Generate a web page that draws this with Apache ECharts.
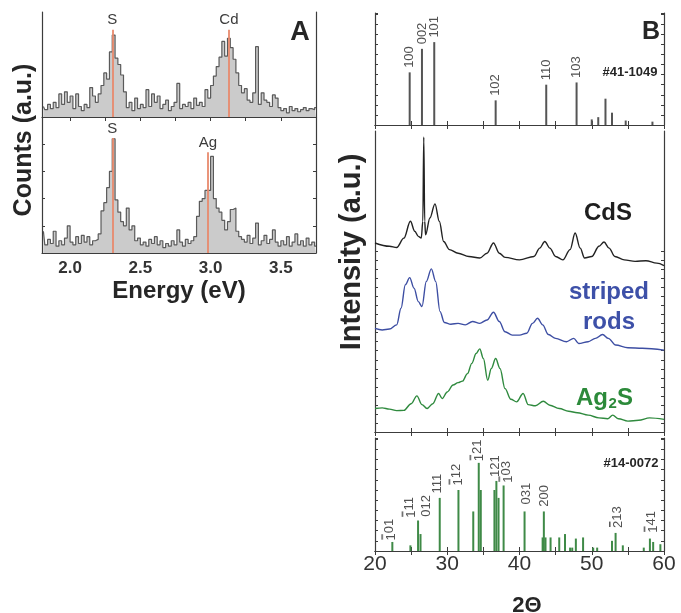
<!DOCTYPE html>
<html>
<head>
<meta charset="utf-8">
<script src="https://cdn.jsdelivr.net/npm/echarts@6/dist/echarts.min.js"></script>
<style>
  html, body { margin: 0; padding: 0; background: #fff; }
  #chart { width: 681px; height: 613px; }
</style>
</head>
<body>
<div id="chart"></div>
<script>
// ---- panel A: EDS spectra (bin centres in eV, counts in a.u.)
const energy = [
  1.81, 1.83, 1.85, 1.87, 1.89, 1.91, 1.93, 1.95, 1.97, 1.99,
  2.01, 2.03, 2.05, 2.07, 2.09, 2.11, 2.13, 2.15, 2.17, 2.19,
  2.21, 2.23, 2.25, 2.27, 2.29, 2.31, 2.33, 2.35, 2.37, 2.39,
  2.41, 2.43, 2.45, 2.47, 2.49, 2.51, 2.53, 2.55, 2.57, 2.59,
  2.61, 2.63, 2.65, 2.67, 2.69, 2.71, 2.73, 2.75, 2.77, 2.79,
  2.81, 2.83, 2.85, 2.87, 2.89, 2.91, 2.93, 2.95, 2.97, 2.99,
  3.01, 3.03, 3.05, 3.07, 3.09, 3.11, 3.13, 3.15, 3.17, 3.19,
  3.21, 3.23, 3.25, 3.27, 3.29, 3.31, 3.33, 3.35, 3.37, 3.39,
  3.41, 3.43, 3.45, 3.47, 3.49, 3.51, 3.53, 3.55, 3.57, 3.59,
  3.61, 3.63, 3.65, 3.67, 3.69, 3.71, 3.73, 3.75
];
const edsCdS = [
  10, 7, 12, 8, 14, 9, 22, 12, 24, 14,
  20, 8, 22, 10, 6, 12, 9, 28, 20, 14,
  22, 30, 42, 36, 62, 78, 56, 50, 40, 24,
  9, 14, 6, 18, 8, 12, 9, 26, 10, 22,
  14, 20, 8, 12, 16, 6, 10, 14, 32, 8,
  12, 10, 14, 8, 18, 11, 14, 10, 26, 18,
  30, 39, 48, 57, 72, 58, 75, 66, 55, 42,
  30, 23, 27, 16, 14, 23, 67, 12, 23, 16,
  14, 10, 21, 18, 9, 6, 8, 4, 10, 6,
  8, 5, 7, 9, 6, 8, 7, 9
];
const edsAg2S = [
  16, 6, 10, 7, 16, 5, 9, 6, 11, 20,
  8, 6, 12, 7, 13, 8, 12, 6, 9, 10,
  14, 31, 37, 48, 60, 84, 39, 30, 23, 20,
  33, 17, 20, 9, 11, 6, 8, 5, 10, 7,
  12, 6, 9, 4, 7, 5, 9, 6, 17, 8,
  5, 10, 7, 9, 12, 27, 38, 40, 46, 46,
  71, 40, 33, 30, 24, 17, 23, 32, 33, 16,
  12, 10, 8, 13, 7, 11, 22, 6, 9, 13,
  7, 10, 17, 8, 5, 9, 6, 12, 5, 8,
  14, 6, 9, 5, 11, 6, 8, 5
];
const lineS = 2.30, lineCd = 3.13, lineAg = 2.98;
const eTicks = [2.0, 2.25, 2.5, 2.75, 3.0, 3.25, 3.5];
const eLabels = [2.0, 2.5, 3.0, 3.5];

// ---- panel B: XRD patterns (2-theta, intensity)
const cdsTheta = [20, 22, 23, 24, 24.9, 25.5, 26.0, 26.4, 26.62, 26.75, 26.88, 27.0, 27.6, 28.3, 28.9,
  29.5, 30.3, 31.5, 33, 34.5, 35.5, 36.4, 37.2, 38, 40, 42, 42.8, 43.5, 44.2, 45,
  46, 47, 47.7, 48.4, 49, 50, 51, 51.7, 52.4, 53.2, 54.5, 56, 57.5, 59, 60];
const cdsInt = [62.8, 61.7, 61.3, 64.4, 70, 66.7, 65, 64.4, 70, 98, 70, 65.5, 71.1, 75.8, 70,
  63.3, 60.6, 59.4, 58.3, 57.8, 59.4, 62.8, 59.4, 58, 57.2, 58.3, 61.1, 63.3, 61.1, 58.3,
  57.2, 60.6, 66.1, 61.1, 57.8, 58.3, 61.7, 63.1, 61.1, 58.3, 57.2, 56.7, 56.9, 56.1, 55.3];

const rodsTheta = [20, 21, 22, 23, 23.6, 24.2, 24.8, 25.4, 26.0, 26.5, 27.1, 27.8, 28.4, 29.0, 29.6,
  30.5, 31.5, 32.5, 33.5, 34.5, 35.5, 36.4, 37.2, 38, 39, 40, 41, 41.8, 42.5, 43.2,
  44, 45, 46.5, 47.5, 48.2, 49.5, 50.5, 51.5, 52.3, 53.3, 55, 57, 60];
const rodsInt = [34.4, 33.9, 34.2, 35.6, 41.1, 48.9, 51.3, 47.8, 43.3, 41.7, 50, 54.2, 50, 40, 36.4,
  35.8, 36.1, 35.6, 36.7, 36.1, 37.2, 39.8, 36.7, 33.3, 32.2, 32.2, 32.8, 36.1, 37.8, 35.6,
  32.4, 31.1, 30, 31.1, 29.4, 30, 31.1, 32.4, 31.1, 28.9, 28, 27.8, 27.2];

const ag2sTheta = [20, 21, 22, 23, 24, 25, 25.8, 26.5, 27.2, 28, 28.8, 29.3, 30, 30.8, 31.5,
  32.1, 32.8, 33.4, 34.0, 34.5, 35.0, 35.6, 36.1, 36.7, 37.3, 38.0, 38.8, 39.6, 40.5, 41.2,
  42.2, 43.3, 44.2, 45.5, 46.8, 48, 49.5, 51, 52.2, 52.9, 53.7, 55, 56.5, 58, 60];
const ag2sInt = [7.8, 8, 7.6, 7.1, 7.2, 9.4, 12, 9.1, 7.8, 9.4, 12.8, 11.1, 13.3, 15.6, 16.4,
  16.9, 19.4, 22.8, 26.1, 27.6, 24.4, 17.2, 21.1, 24.4, 21.1, 14.4, 10.9, 10, 12.8, 9.1,
  8.7, 10.2, 8.9, 7.8, 6.9, 6.4, 5.6, 4.7, 4.4, 5.6, 4.4, 3.6, 3.9, 4.7, 4.2];

// reference card #41-1049 (CdS)
const cdsRefPos = [24.8, 26.5, 28.2, 36.7, 43.7, 47.9, 50.0, 50.9, 51.9, 52.8, 54.7, 58.4];
const cdsRefHt = [47, 68, 74, 22, 36, 38, 5, 7, 23.5, 11, 4, 3];
const cdsRefHkl = ['100', '002', '101', '102', '110', '103'];

// reference card #14-0072 (Ag2S)
const agRefPos = [22.4, 24.9, 25.96, 26.3, 28.96, 31.55, 33.6, 34.36, 34.64, 36.53, 36.8, 37.1, 37.8,
  40.7, 43.2, 43.37, 43.6, 44.3, 45.5, 46.3, 47.0, 47.3, 47.8, 48.8, 50.2, 50.75,
  52.8, 53.3, 54.3, 57.2, 58.05, 58.5, 59.5];
const agRefHt = [8, 5, 27, 15, 47, 54, 35, 78, 54, 54, 62, 47, 58,
  35, 12, 35, 12, 12, 12, 15, 3, 3, 11, 12, 3, 3,
  9, 16, 5, 3, 11, 8, 6];
const agHklPos = [22.0, 24.8, 27.16, 28.7, 31.3, 34.2, 36.6, 38.2, 41.0, 43.5, 53.5, 58.3];
const agHklY = [8.8, 29, 29.8, 50.4, 57.5, 79, 65, 60, 40.7, 38.7, 20, 15.7];
// "b" marks an index carrying an overbar (negative Miller index)
const agHkl = ['b101', 'b111', '012', '111', 'b112', 'b121', '121', 'b103', '031', '200', 'b213', 'b141'];

const FONT = '"Liberation Sans", Arial, Helvetica, sans-serif';
const INK = '#262626';
const FRAME = '#3c3c3c';

const chart = echarts.init(document.getElementById('chart'));

function xAx(gridIndex, position, min, max, extra) {
  return Object.assign({
    type: 'value', gridIndex: gridIndex, position: position, min: min, max: max,
    axisLine: { show: true, lineStyle: { color: FRAME, width: 1.2 } },
    axisTick: { show: true, inside: true, length: 4, lineStyle: { color: FRAME } },
    axisLabel: { show: false },
    splitLine: { show: false }
  }, extra || {});
}
function yAx(gridIndex, position, tick) {
  return {
    type: 'value', gridIndex: gridIndex, position: position, min: 0, max: 100,
    axisLine: { show: true, lineStyle: { color: FRAME, width: 1.2 } },
    axisTick: tick ? Object.assign({ show: true, inside: true, length: 3, lineStyle: { color: FRAME } }, tick)
                   : { show: false },
    axisLabel: { show: false },
    splitLine: { show: false }
  };
}
function sticks(color) {
  return function (params, api) {
    const base = api.coord([api.value(0), 0]);
    const tip = api.coord([api.value(0), api.value(1)]);
    return {
      type: 'rect',
      shape: { x: base[0] - 1, y: tip[1], width: 2, height: base[1] - tip[1] },
      style: { fill: color }
    };
  };
}
function redLine(x, top, name) {
  return [{ coord: [x, 0] }, { coord: [x, top], label: { formatter: name } }];
}
function txt(x, y, text, size, bold, color, align, rot) {
  return {
    type: 'text', x: x, y: y, rotation: rot || 0,
    style: {
      text: text, fill: color || INK, fontSize: size, fontWeight: bold ? 'bold' : 'normal',
      fontFamily: FONT, align: align || 'center', verticalAlign: 'middle'
    }
  };
}
// hkl label: the first digit gets an overline through rich text
function hklText(h) {
  return h[0] === 'b' ? '{o|' + h[1] + '}' + h.slice(2) : h;
}
function overbar() {
  const c = document.createElement('canvas');
  c.width = 8; c.height = 18;
  const g = c.getContext('2d');
  g.fillStyle = INK;
  g.fillRect(1, 0, 6, 1.6);
  return c;
}

const eTickCfg = { customValues: eTicks, show: true, inside: true, length: 4, lineStyle: { color: FRAME } };
const edsLine = { color: '#5a5a5a', width: 1.2 };
const edsArea = { color: '#cbcbcb', opacity: 1 };
const markRed = {
  symbol: 'none', silent: true,
  lineStyle: { color: '#e8896d', width: 2, type: 'solid', opacity: 0.9 },
  label: { show: true, position: 'end', distance: 2, color: INK, fontSize: 15, fontFamily: FONT }
};
const xrdLine = { type: 'line', xAxisIndex: 4, yAxisIndex: 6, smooth: 0.35, smoothMonotone: 'x', symbol: 'none' };

chart.setOption({
  animation: false,
  grid: [
    { left: 42, top: 12, width: 274, height: 105 },
    { left: 42, top: 117, width: 274, height: 136 },
    { left: 375, top: 13, width: 289, height: 112 },
    { left: 375, top: 131, width: 289, height: 301 },
    { left: 375, top: 438, width: 289, height: 113 }
  ],
  xAxis: [
    xAx(0, 'top', 1.8, 3.75, { axisTick: eTickCfg }),
    xAx(1, 'bottom', 1.8, 3.75, {
      axisTick: eTickCfg,
      axisLabel: {
        show: true, customValues: eLabels, margin: 7, color: '#333', fontSize: 17,
        fontWeight: 'bold', fontFamily: FONT, formatter: v => v.toFixed(1)
      }
    }),
    xAx(2, 'bottom', 20, 60, { interval: 5 }),
    xAx(2, 'top', 20, 60, { interval: 5 }),
    xAx(3, 'bottom', 20, 60, { interval: 5 }),
    xAx(3, 'top', 20, 60, { interval: 5 }),
    xAx(4, 'bottom', 20, 60, {
      interval: 5,
      axisLabel: { show: true, customValues: [20, 30, 40, 50, 60], margin: 3, color: '#333', fontSize: 21, fontFamily: FONT }
    }),
    xAx(4, 'top', 20, 60, { interval: 5 })
  ],
  yAxis: [
    yAx(0, 'left', null),
    yAx(0, 'right', null),
    yAx(1, 'left', { interval: 10 }),
    yAx(1, 'right', { interval: 10 }),
    Object.assign(yAx(2, 'left', {}), { interval: 9 }),
    Object.assign(yAx(2, 'right', {}), { interval: 9 }),
    yAx(3, 'left', { customValues: Array.from({ length: 21 }, (_, i) => i * 3) }),
    yAx(3, 'right', { customValues: Array.from({ length: 21 }, (_, i) => i * 3) }),
    Object.assign(yAx(4, 'left', {}), { interval: 9 }),
    Object.assign(yAx(4, 'right', {}), { interval: 9 })
  ],
  series: [
    {
      name: 'EDS CdS', type: 'line', xAxisIndex: 0, yAxisIndex: 0, step: 'middle',
      symbol: 'none', lineStyle: edsLine, areaStyle: edsArea,
      data: energy.map((e, i) => [e, edsCdS[i]]),
      markLine: Object.assign({ data: [redLine(lineS, 83, 'S'), redLine(lineCd, 83, 'Cd')] }, markRed)
    },
    {
      name: 'EDS Ag2S', type: 'line', xAxisIndex: 1, yAxisIndex: 2, step: 'middle',
      symbol: 'none', lineStyle: edsLine, areaStyle: edsArea,
      data: energy.map((e, i) => [e, edsAg2S[i]]),
      markLine: Object.assign({ data: [redLine(lineS, 84.5, 'S'), redLine(lineAg, 74, 'Ag')] }, markRed)
    },
    {
      name: 'ref CdS', type: 'custom', xAxisIndex: 2, yAxisIndex: 4,
      renderItem: sticks('#555555'), encode: { x: 0, y: 1 },
      data: cdsRefPos.map((x, i) => [x, cdsRefHt[i]])
    },
    {
      name: 'ref CdS hkl', type: 'scatter', xAxisIndex: 2, yAxisIndex: 4, symbolSize: 1,
      itemStyle: { color: 'transparent' }, silent: true,
      label: {
        show: true, position: 'top', distance: 4, rotate: 90, align: 'left', verticalAlign: 'middle',
        color: INK, fontSize: 13, fontFamily: FONT, formatter: p => p.data[2]
      },
      data: cdsRefHkl.map((h, i) => [cdsRefPos[i], cdsRefHt[i], h])
    },
    Object.assign({
      name: 'CdS', lineStyle: { color: '#222222', width: 1.4 },
      data: cdsTheta.map((t, i) => [t, cdsInt[i]])
    }, xrdLine),
    Object.assign({
      name: 'striped rods', lineStyle: { color: '#3d4ea3', width: 1.4 },
      data: rodsTheta.map((t, i) => [t, rodsInt[i]])
    }, xrdLine),
    Object.assign({
      name: 'Ag2S', lineStyle: { color: '#2f8a3e', width: 1.4 },
      data: ag2sTheta.map((t, i) => [t, ag2sInt[i]])
    }, xrdLine),
    {
      name: 'ref Ag2S', type: 'custom', xAxisIndex: 6, yAxisIndex: 8,
      renderItem: sticks('#3f8a47'), encode: { x: 0, y: 1 },
      data: agRefPos.map((x, i) => [x, agRefHt[i]])
    },
    {
      name: 'ref Ag2S hkl', type: 'scatter', xAxisIndex: 6, yAxisIndex: 8, symbolSize: 1,
      itemStyle: { color: 'transparent' }, silent: true,
      label: {
        show: true, position: 'top', distance: 0, rotate: 90, align: 'left', verticalAlign: 'middle',
        color: INK, fontSize: 13, fontFamily: FONT, formatter: p => hklText(p.data[2]),
        rich: {
          o: {
            fontSize: 13, fontFamily: FONT, color: INK, padding: [3, 0, 0, 0],
            backgroundColor: { image: overbar() }
          }
        }
      },
      data: agHkl.map((h, i) => [agHklPos[i], agHklY[i], h])
    }
  ],
  graphic: [
    txt(300, 33, 'A', 27, true),
    txt(651, 32, 'B', 25, true),
    txt(630, 72, '#41-1049', 13, true),
    txt(631, 463, '#14-0072', 13, true),
    txt(24, 140, 'Counts (a.u.)', 25, true, INK, 'center', Math.PI / 2),
    txt(179, 291, 'Energy (eV)', 24, true),
    txt(352, 252, 'Intensity (a.u.)', 29, true, INK, 'center', Math.PI / 2),
    txt(527, 606, '2\u0398', 22, true),
    txt(608, 213, 'CdS', 24, true, '#1e1e1e'),
    txt(609, 292, 'striped', 24, true, '#3d50a8'),
    txt(609, 322, 'rods', 24, true, '#3d50a8'),
    txt(608, 398, 'Ag', 24, true, '#2c8a3a', 'right'),
    txt(608.5, 404, '2', 15, true, '#2c8a3a', 'left'),
    txt(617, 398, 'S', 24, true, '#2c8a3a', 'left')
  ]
});
</script>
</body>
</html>
